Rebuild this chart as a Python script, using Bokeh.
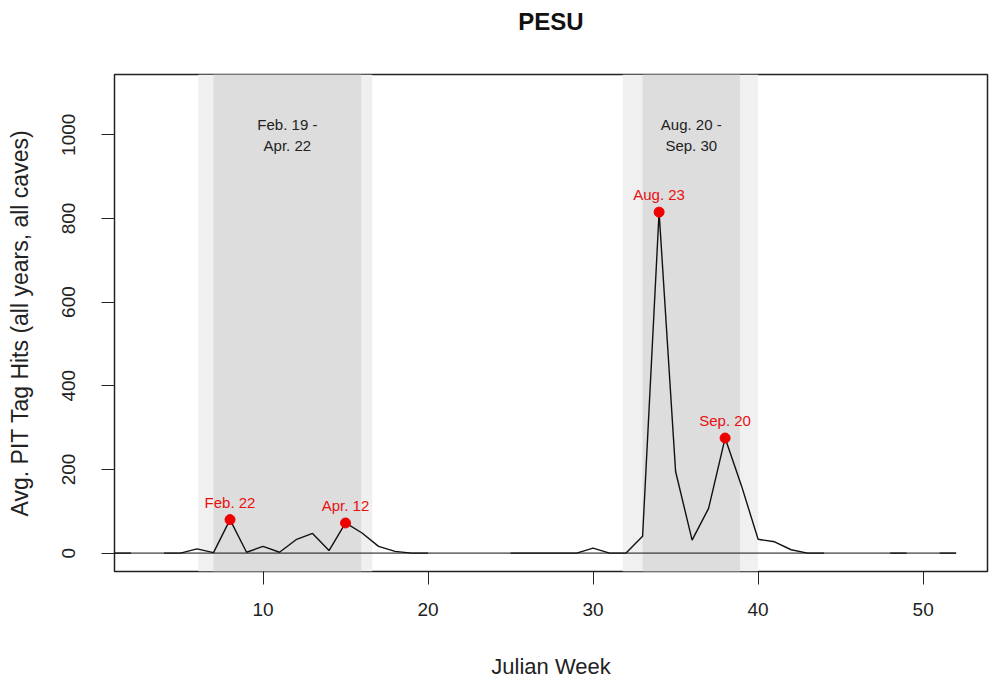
import math
from bokeh.plotting import figure
from bokeh.models import Range1d, FixedTicker, BoxAnnotation, Title
from bokeh.core.properties import value
from bokeh.embed import file_html
from bokeh.resources import INLINE

nan = float("nan")

# ---- data ----
weeks = list(range(1, 53))
hits = [0, 0, nan, 0, 0, 10, 1, 80, 2, 16,
        2, 32, 47, 6, 72, 48, 16, 4, 0, 0,
        nan, nan, nan, nan, 0, 0, 0, 0, 0, 12,
        0, 0, 40, 815, 195, 31, 107, 275, 160, 33,
        27, 8, 0, 0, nan, nan, nan, 0, 0, nan,
        0, 0]

peak_weeks = [8, 15, 34, 38]
peak_labels = ["Feb. 22", "Apr. 12", "Aug. 23", "Sep. 20"]

band_outer_start = [6.08, 31.8]
band_outer_end = [16.62, 40.0]
band_core_start = [7.0, 33.0]
band_core_end = [15.95, 38.9]
band_labels = ["Feb. 19 -\nApr. 22", "Aug. 20 -\nSep. 30"]
band_label_y = 1000

x_ticks = [10, 20, 30, 40, 50]
y_ticks = [0, 200, 400, 600, 800, 1000]

FONT = "Liberation Sans"

p = figure(width=992, height=683,
           x_range=Range1d(1.0, 53.9), y_range=Range1d(-44, 1144),
           output_backend="svg", toolbar_location=None,
           min_border_left=114, min_border_right=5,
           min_border_top=74, min_border_bottom=112)

# bands
for s, e in zip(band_outer_start, band_outer_end):
    p.add_layout(BoxAnnotation(left=s, right=e, fill_color="#F0F0F0", fill_alpha=1.0,
                               line_color=None, level="underlay"))
for s, e in zip(band_core_start, band_core_end):
    p.add_layout(BoxAnnotation(left=s, right=e, fill_color="#DDDDDD", fill_alpha=1.0,
                               line_color=None, level="underlay"))

# band labels
centers = [(s + e) / 2 for s, e in zip(band_core_start, band_core_end)]
p.text(x=centers, y=[band_label_y] * len(centers), text=band_labels,
       text_align="center", text_baseline="middle", text_line_height=1.25,
       text_font=value(FONT), text_font_size="15px", text_color="#222222")

# baseline
p.segment(x0=[weeks[0]], y0=[0], x1=[weeks[-1]], y1=[0], line_color="#111111", line_width=1)

# data line
p.line(weeks, hits, line_color="#111111", line_width=1.4)

# peaks
peak_vals = [hits[weeks.index(w)] for w in peak_weeks]
p.scatter(peak_weeks, peak_vals, size=10, fill_color="#EE0000", line_color="#EE0000")
p.text(x=peak_weeks, y=peak_vals, text=peak_labels, y_offset=-9,
       text_align="center", text_baseline="bottom",
       text_font=value(FONT), text_font_size="15px", text_color="#E81010")

# title (with an empty spacer title between it and the frame)
p.title.text = "PESU"
p.title.align = "center"
p.title.text_font = FONT
p.title.text_font_size = "24px"
p.title.text_font_style = "bold"
p.title.text_color = "#111111"
p.title.standoff = 0
p.add_layout(Title(text=" ", text_font_size="10px", standoff=27), "above")

# axes
for ax in (p.xaxis[0], p.yaxis[0]):
    ax.major_tick_out = 13
    ax.major_tick_in = 0
    ax.minor_tick_out = 0
    ax.minor_tick_in = 0
    ax.major_tick_line_color = "#222222"
    ax.axis_line_color = None
    ax.major_label_text_font = FONT
    ax.major_label_text_font_size = "19px"
    ax.major_label_text_color = "#222222"
    ax.axis_label_text_font = FONT
    ax.axis_label_text_font_style = "normal"
    ax.axis_label_text_color = "#222222"

p.xaxis.axis_label_text_font_size = "22px"
p.yaxis.axis_label_text_font_size = "23px"
p.xaxis.ticker = FixedTicker(ticks=x_ticks)
p.yaxis.ticker = FixedTicker(ticks=y_ticks)
p.xaxis.axis_label = "Julian Week"
p.yaxis.axis_label = "Avg. PIT Tag Hits (all years, all caves)"
p.yaxis.major_label_orientation = "vertical"
p.xaxis.major_label_standoff = 18
p.yaxis.major_label_standoff = 26
p.xaxis.axis_label_standoff = 35
p.yaxis.axis_label_standoff = 27

p.grid.visible = False
p.outline_line_color = "#222222"
p.outline_line_width = 1.5
p.background_fill_color = "white"
p.border_fill_color = "white"

open("out.html", "w").write(file_html(p, INLINE))
